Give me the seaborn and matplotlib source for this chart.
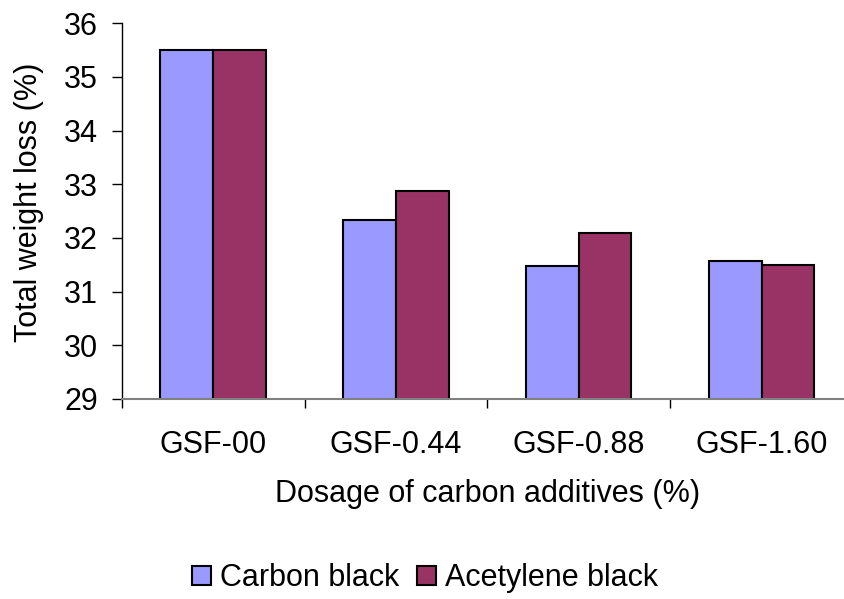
import matplotlib
matplotlib.use("Agg")
import matplotlib.pyplot as plt
import seaborn as sns
import pandas as pd
from matplotlib.ticker import FixedLocator

categories = ["GSF-00", "GSF-0.44", "GSF-0.88", "GSF-1.60"]
carbon_black = [35.5, 32.34, 31.47, 31.57]
acetylene_black = [35.5, 32.88, 32.09, 31.50]
series_names = ["Carbon black", "Acetylene black"]
y_ticks = [29, 30, 31, 32, 33, 34, 35, 36]

df = pd.DataFrame({
    "Dosage": categories * 2,
    "Loss": carbon_black + acetylene_black,
    "Series": [series_names[0]] * 4 + [series_names[1]] * 4,
})

sns.set_style("white")
plt.rcParams["font.family"] = ["Liberation Sans", "DejaVu Sans"]
plt.rcParams["text.color"] = "black"
plt.rcParams["xtick.color"] = "black"
plt.rcParams["ytick.color"] = "black"
plt.rcParams["axes.labelcolor"] = "black"

FS = 22

fig = plt.figure(figsize=(8.45, 5.99), dpi=100)
ax = fig.add_axes([121.7 / 845, 200 / 599, (853 - 121.7) / 845, 375.7 / 599])

sns.barplot(data=df, x="Dosage", y="Loss", hue="Series", order=categories,
            hue_order=series_names, palette=["#9999FF", "#993366"],
            saturation=1, width=0.576, edgecolor="black", linewidth=1.5,
            ax=ax, legend=True)

ax.set_xlim(-0.5, 3.5)
ax.set_ylim(29, 36)
ax.set_yticks(y_ticks)
ax.set_yticklabels([str(v) for v in y_ticks])
ax.tick_params(axis="y", direction="out", length=7.2, width=1, color="black",
               labelcolor="black", pad=10, labelsize=FS, left=True)
ax.tick_params(axis="x", which="major", length=0, pad=22.5, labelsize=FS,
               labelcolor="black")
ax.xaxis.set_minor_locator(FixedLocator([-0.5, 0.5, 1.5, 2.5]))
ax.tick_params(axis="x", which="minor", direction="out", length=6.5, width=1,
               color="black", bottom=True)

for s in ["top", "right"]:
    ax.spines[s].set_visible(False)
ax.spines["left"].set_color("black")
ax.spines["left"].set_linewidth(1)
ax.spines["bottom"].set_color("#808080")
ax.spines["bottom"].set_linewidth(1.5)
ax.set_xlabel("")
ax.set_ylabel("")

fig.text(29 / 845, 1 - 202 / 599, "Total weight loss (%)", rotation=90,
         ha="center", va="center", fontsize=FS, color="black")
fig.text(487.5 / 845, 1 - 494 / 599, "Dosage of carbon additives (%)",
         ha="center", va="center", fontsize=FS, color="black")

h, l = ax.get_legend_handles_labels()
if ax.get_legend() is not None:
    ax.get_legend().remove()
fig.legend(h, l, loc="center", bbox_to_anchor=(425 / 845, 1 - 578 / 599),
           ncol=2, frameon=False, fontsize=FS, handlelength=0.6,
           handleheight=0.6, handletextpad=0.3, columnspacing=0.6)

fig.savefig("out.png", dpi=100)
